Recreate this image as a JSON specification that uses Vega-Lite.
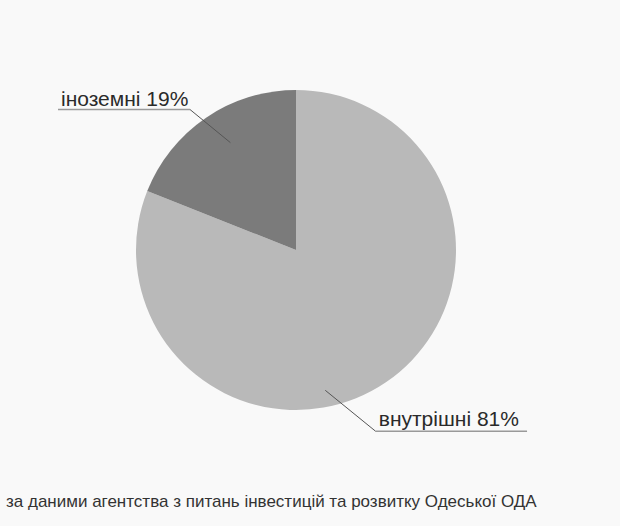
{
  "$schema": "https://vega.github.io/schema/vega-lite/v6.json",
  "autosize": "none",
  "width": 320,
  "height": 320,
  "padding": {"left": 136, "top": 90, "right": 164, "bottom": 116},
  "background": "#f9f9f9",
  "config": {"view": {"stroke": null}, "font": "Liberation Sans"},
  "data": {"values": [
    {"category": "внутрішні", "value": 81, "label": "внутрішні 81%"},
    {"category": "іноземні", "value": 19, "label": "іноземні 19%"}
  ]},
  "layer": [
    {
      "mark": {"type": "arc", "radius": 160},
      "encoding": {
        "theta": {"field": "value", "type": "quantitative", "stack": true},
        "order": {"field": "value", "type": "quantitative", "sort": "descending"},
        "color": {"field": "category", "type": "nominal", "legend": null,
          "scale": {"domain": ["внутрішні", "іноземні"], "range": ["#b9b9b9", "#7b7b7b"]}}
      }
    },
    {
      "data": {"values": [{}]},
      "mark": {"type": "rule", "color": "#9a9a9a", "strokeWidth": 1.5},
      "encoding": {
        "x": {"datum": -1.4875, "type": "quantitative", "scale": {"domain": [-1, 1], "nice": false, "zero": false}, "axis": null},
        "x2": {"datum": -0.6625},
        "y": {"datum": 0.878, "type": "quantitative", "scale": {"domain": [-1, 1], "nice": false, "zero": false}, "axis": null},
        "y2": {"datum": 0.878}
      }
    },
    {
      "data": {"values": [{}]},
      "mark": {"type": "rule", "color": "#555555", "strokeWidth": 1},
      "encoding": {
        "x": {"datum": -0.6625, "type": "quantitative"},
        "x2": {"datum": -0.41},
        "y": {"datum": 0.878, "type": "quantitative"},
        "y2": {"datum": 0.671}
      }
    },
    {
      "data": {"values": [{}]},
      "mark": {"type": "rule", "color": "#9a9a9a", "strokeWidth": 1.5},
      "encoding": {
        "x": {"datum": 0.497, "type": "quantitative"},
        "x2": {"datum": 1.444},
        "y": {"datum": -1.1325, "type": "quantitative"},
        "y2": {"datum": -1.1325}
      }
    },
    {
      "data": {"values": [{}]},
      "mark": {"type": "rule", "color": "#555555", "strokeWidth": 1},
      "encoding": {
        "x": {"datum": 0.497, "type": "quantitative"},
        "x2": {"datum": 0.183},
        "y": {"datum": -1.1325, "type": "quantitative"},
        "y2": {"datum": -0.877}
      }
    },
    {
      "transform": [{"filter": "datum.category === 'іноземні'"}],
      "mark": {"type": "text", "align": "left", "baseline": "alphabetic", "fontSize": 21, "color": "#2a2a2a"},
      "encoding": {
        "x": {"datum": -1.46875, "type": "quantitative"},
        "y": {"datum": 0.9, "type": "quantitative"},
        "text": {"field": "label"}
      }
    },
    {
      "transform": [{"filter": "datum.category === 'внутрішні'"}],
      "mark": {"type": "text", "align": "left", "baseline": "alphabetic", "fontSize": 21, "color": "#2a2a2a"},
      "encoding": {
        "x": {"datum": 0.517, "type": "quantitative"},
        "y": {"datum": -1.1, "type": "quantitative"},
        "text": {"field": "label"}
      }
    },
    {
      "data": {"values": [{"source": "за даними агентства з питань інвестицій та розвитку Одеської ОДА"}]},
      "mark": {"type": "text", "align": "left", "baseline": "alphabetic", "fontSize": 17, "color": "#333333"},
      "encoding": {
        "x": {"datum": -1.8125, "type": "quantitative"},
        "y": {"datum": -1.60625, "type": "quantitative"},
        "text": {"field": "source"}
      }
    }
  ]
}
